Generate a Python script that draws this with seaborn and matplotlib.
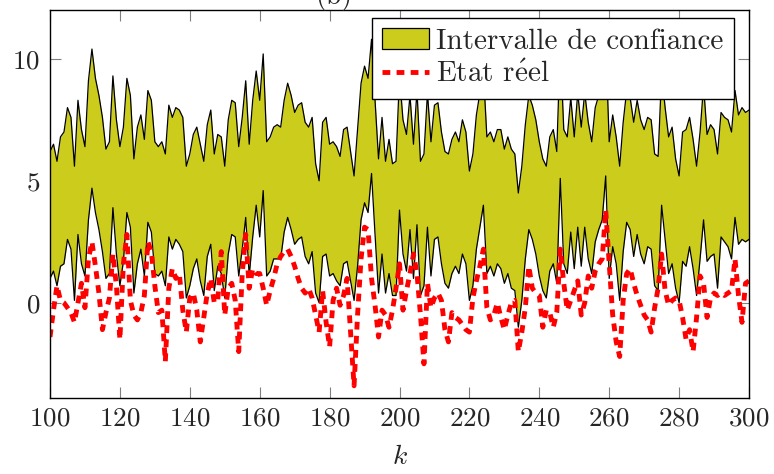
import numpy as np
import pandas as pd
import matplotlib
matplotlib.use('Agg')
import matplotlib.pyplot as plt
import seaborn as sns
from matplotlib.patches import Patch
from matplotlib.lines import Line2D

# instants k = 100 ... 300
k = np.arange(100, 301)

borne_inf = [
    1.0, 1.3, 0.7, 1.5, 1.6, 2.6, 2.2, 0.1, 2.8, 1.6,
    1.1, 3.4, 4.7, 3.7, 3.0, 2.1, 1.0, 1.2, 3.9, 2.0,
    0.7, 1.7, 3.7, 3.1, 0.4, 1.6, 2.2, 1.1, 3.3, 2.9,
    1.2, 1.1, 1.3, 0.7, 2.7, 2.2, 2.6, 2.4, 2.1, 0.2,
    0.7, 1.4, 1.8, 0.9, 0.3, 1.9, 2.4, 0.5, 1.5, 1.2,
    0.2, 2.0, 2.8, 2.7, 1.1, 2.2, 3.5, 1.1, 2.7, 4.0,
    2.7, 4.6, 1.1, 1.3, 1.8, 1.8, 1.8, 2.9, 3.5, 3.0,
    2.4, 2.6, 2.7, 1.9, 1.6, 2.1, 0.4, 0.0, 1.9, 2.0,
    1.1, 1.2, 0.9, 0.7, 1.6, 1.7, 0.9, 0.1, 1.5, 3.4,
    4.1, 3.7, 5.3, 2.8, 0.4, 2.0, 0.4, 1.2, 0.3, 0.3,
    3.8, 2.0, 1.3, 3.0, 1.0, 3.2, 0.3, 0.7, 3.1, 1.1,
    2.6, 2.7, 1.6, 0.8, 0.6, 1.2, 1.5, 1.2, 2.0, 1.6,
    0.1, 0.7, 2.2, 3.1, 4.0, 1.2, 1.5, 1.1, 1.6, 1.4,
    0.8, 1.2, 0.6, 0.5, -1.0, 0.1, 1.8, 3.0, 2.6, 2.0,
    1.1, 0.5, 0.2, 1.3, 1.6, 0.8, 5.1, 1.6, 1.2, 2.9,
    1.4, 3.1, 1.5, 3.1, 1.8, 1.2, 2.5, 3.0, 3.4, 5.2,
    1.0, 2.3, 1.6, 0.1, 2.1, 3.3, 3.0, 1.9, 2.8, 2.0,
    1.6, 2.3, 2.2, 0.7, 0.5, 4.0, 2.6, 1.2, 1.6, 0.6,
    0.0, 1.7, 1.5, 2.3, 1.4, 0.3, 1.8, 3.4, 1.7, 1.9,
    2.0, 0.6, 2.7, 2.5, 2.3, 1.8, 3.5, 2.4, 2.6, 2.5,
    2.6,
]

borne_sup = [
    6.2, 6.5, 5.8, 6.8, 7.0, 8.0, 7.6, 5.6, 8.3, 7.1,
    6.4, 9.1, 10.4, 9.2, 8.5, 7.6, 6.3, 6.6, 9.3, 7.5,
    6.4, 7.2, 9.2, 8.5, 5.9, 7.2, 7.7, 6.7, 8.7, 8.3,
    6.6, 6.4, 6.6, 6.1, 8.1, 7.6, 8.0, 7.9, 7.6, 5.6,
    6.1, 6.9, 7.2, 6.5, 5.8, 7.3, 7.9, 6.1, 6.9, 6.8,
    5.6, 7.5, 8.3, 8.2, 6.4, 7.6, 9.1, 6.5, 8.3, 9.5,
    8.3, 10.2, 6.6, 6.8, 7.2, 7.3, 7.2, 8.3, 9.0, 8.5,
    7.8, 8.1, 8.2, 7.4, 7.2, 7.6, 5.7, 5.0, 7.4, 7.6,
    6.5, 6.6, 6.4, 6.0, 7.1, 7.2, 6.2, 5.2, 7.1, 9.0,
    9.7, 9.2, 10.8, 8.3, 5.9, 7.6, 5.8, 6.7, 5.7, 5.8,
    9.3, 7.5, 6.9, 8.5, 6.5, 8.7, 5.8, 6.1, 8.6, 6.6,
    8.1, 8.2, 7.0, 6.2, 6.1, 6.7, 7.0, 6.6, 7.5, 7.0,
    5.4, 6.1, 7.7, 8.6, 9.5, 6.8, 7.0, 6.6, 7.1, 7.1,
    6.3, 6.8, 6.3, 6.1, 4.5, 5.6, 7.3, 8.5, 8.1, 7.5,
    6.6, 5.9, 5.6, 6.8, 7.1, 6.2, 10.6, 7.1, 6.8, 8.4,
    6.8, 8.6, 7.2, 8.6, 7.4, 6.6, 8.0, 8.5, 8.9, 10.7,
    6.6, 7.7, 6.8, 5.6, 7.4, 8.7, 8.4, 7.4, 8.3, 7.5,
    7.1, 7.6, 7.5, 6.1, 6.0, 9.4, 8.0, 6.8, 7.2, 5.9,
    5.2, 7.0, 7.1, 7.6, 6.7, 5.6, 7.0, 8.9, 6.9, 7.3,
    7.1, 6.1, 7.8, 7.6, 7.5, 7.0, 8.7, 7.7, 8.0, 7.8,
    7.9,
]

etat_reel = [
    -1.4, -0.3, 0.7, 0.1, 0.0, -0.2, -0.4, -0.8, 0.0, 0.8,
    -0.2, 1.8, 2.5, 1.5, 0.4, -1.1, -0.4, 0.2, 2.0, 0.7,
    -1.5, 1.6, 2.8, 0.1, -0.5, -0.7, -0.4, 0.3, 2.5, 2.1,
    0.7, -0.4, -0.3, -2.4, 0.6, 1.4, 1.0, 1.2, -0.3, -1.2,
    0.2, 0.4, -0.3, -1.6, -0.6, 0.4, 1.0, 0.0, 0.1, 2.1,
    -0.5, 0.6, 0.8, 0.1, -2.0, 1.2, 2.8, 0.6, 1.4, 1.2,
    1.2, 0.6, -0.1, 0.5, 1.0, 1.6, 1.9, 2.1, 2.2, 1.9,
    1.5, 1.0, 0.6, 0.4, 0.6, 0.2, -0.5, -1.2, 0.5, -0.8,
    -1.8, 0.1, 0.6, -0.1, 0.3, 1.0, -1.2, -3.4, -0.5, 1.8,
    3.1, 3.0, 1.0, -0.1, -1.4, -0.3, -0.5, -1.0, -0.3, 0.6,
    1.6, -0.3, 0.5, 1.2, 2.0, 1.2, -0.5, -2.5, 0.8, -0.2,
    0.2, 0.4, 0.1, -1.1, -1.6, -0.4, -0.6, -0.7, -0.9, -1.1,
    -1.2, 0.2, 0.9, 1.5, 2.2, -0.2, -0.7, -0.5, 0.0, -0.6,
    -1.1, -0.5, 0.0, 0.1, -2.0, -1.2, -0.2, 1.5, 0.6, 0.4,
    0.3, -1.0, -0.3, -0.4, -1.0, -0.4, 2.2, 0.8, -0.3, 0.1,
    0.5, 0.9, -0.5, 0.0, 1.1, 0.6, 1.3, 1.6, 1.8, 3.8,
    1.6, -0.5, -1.6, -2.2, 0.1, 1.2, 1.4, 0.8, 0.3, -0.1,
    -0.5, -0.7, -1.2, -0.2, 0.6, 2.0, 0.5, -0.1, 0.1, 0.2,
    0.1, -0.6, -1.5, -1.1, -2.0, -0.6, 1.1, 0.8, -0.6, 0.2,
    0.4, 0.3, 0.4, 0.3, 0.4, 0.5, 1.8, 0.3, -0.8, 0.8,
    0.9,
]

olive = '#cccc1c'
tirets = (0, (1.6, 1.3))

sns.set_style('ticks')
plt.rcParams['font.family'] = ['cmr10', 'DejaVu Serif']
plt.rcParams['mathtext.fontset'] = 'cm'
plt.rcParams['axes.unicode_minus'] = False
plt.rcParams['axes.formatter.use_mathtext'] = True

df = pd.DataFrame({'k': k, 'inf': borne_inf, 'sup': borne_sup, 'reel': etat_reel})

fig = plt.figure(figsize=(7.74, 4.74), dpi=100)
ax = fig.add_axes([50 / 774, 1 - 398 / 474, 699 / 774, 388 / 474])

ax.fill_between(df['k'], df['inf'], df['sup'], color=olive, lw=0, zorder=1)
sns.lineplot(data=df, x='k', y='sup', color='black', lw=0.9, ax=ax, zorder=2)
sns.lineplot(data=df, x='k', y='inf', color='black', lw=0.9, ax=ax, zorder=2)
sns.lineplot(data=df, x='k', y='reel', color='red', lw=3.5,
             linestyle=tirets, ax=ax, zorder=3)

ax.set_xlim(100, 300)
ax.set_ylim(-3.9, 12.0)
ax.set_xticks(range(100, 301, 20))
ax.set_yticks([0, 5, 10])
ax.set_ylabel('')
ax.set_xlabel('$k$', fontsize=20, labelpad=10)
ax.tick_params(direction='in', length=8, width=0.8, color='0.5',
               top=True, right=True, labelsize=19.5)
ax.tick_params(axis='x', pad=6)
ax.tick_params(axis='y', pad=7)
for s in ax.spines.values():
    s.set_color('black')
    s.set_linewidth(1.0)
    s.set_zorder(5)

handles = [Patch(facecolor=olive, edgecolor='black', lw=0.9),
           Line2D([0], [0], color='red', lw=3.5, linestyle=tirets)]
labels = ['Intervalle de confiance', r'Etat r$\acute{\mathrm{e}}$el']
leg = ax.legend(handles, labels, loc='upper right', bbox_to_anchor=(0.9785, 0.979),
                borderaxespad=0, fancybox=False, framealpha=1, edgecolor='black',
                fontsize=21, handlelength=1.6, handletextpad=0.25, borderpad=0.35,
                labelspacing=0.22)
leg.get_frame().set_linewidth(1.0)
leg.set_zorder(10)

fig.text(334 / 774, 1 - 4 / 474, '(b)', ha='center', va='baseline', fontsize=20)

fig.savefig('out.png', dpi=100)
